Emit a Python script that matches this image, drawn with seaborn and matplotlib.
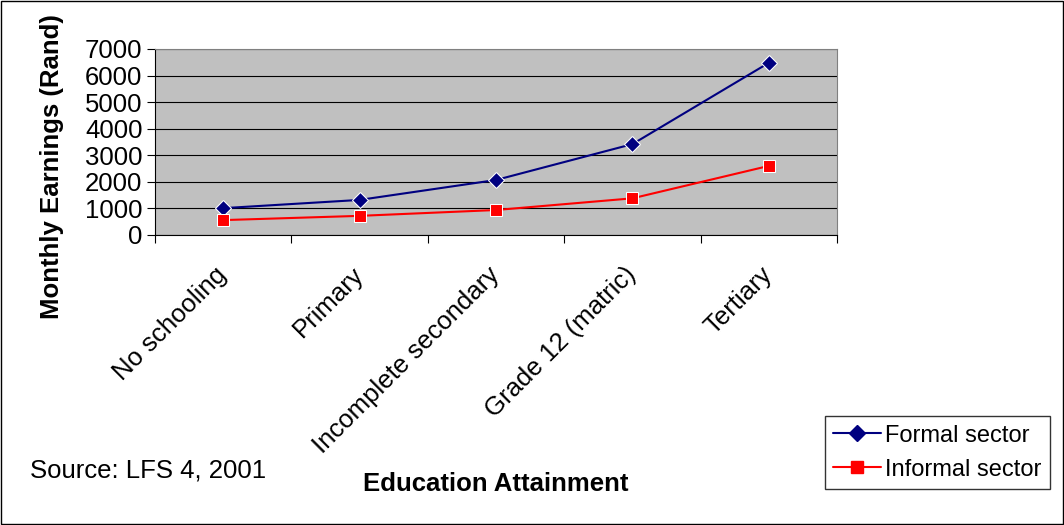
import matplotlib
matplotlib.use("Agg")
import matplotlib.pyplot as plt
import seaborn as sns
import pandas as pd
from matplotlib.lines import Line2D

categories = ["No schooling", "Primary", "Incomplete secondary", "Grade 12 (matric)", "Tertiary"]
formal = [1010, 1320, 2070, 3420, 6480]
informal = [560, 720, 940, 1380, 2600]

df = pd.DataFrame({
    "cat": list(range(len(categories))) * 2,
    "value": formal + informal,
    "sector": ["Formal sector"] * 5 + ["Informal sector"] * 5,
})

sns.set_style("white")
plt.rcParams["font.family"] = ["Liberation Sans", "DejaVu Sans"]
plt.rcParams["text.color"] = "black"
plt.rcParams["xtick.color"] = "black"
plt.rcParams["ytick.color"] = "black"
FS = 18.5

fig = plt.figure(figsize=(10.64, 5.25), dpi=100)
ax = fig.add_axes([0.1457, 0.5524, 0.641, 0.3543])
ax.set_facecolor("#C0C0C0")

sns.lineplot(data=df, x="cat", y="value", hue="sector", style="sector",
             palette={"Formal sector": "#000080", "Informal sector": "#FF0000"},
             markers={"Formal sector": "D", "Informal sector": "s"},
             dashes=False, markersize=8, linewidth=1.5, ax=ax, legend=False)

ax.set_xlim(-0.5, 4.5)
ax.set_ylim(0, 7000)
ax.set_yticks(range(0, 7001, 1000))
ax.yaxis.grid(True, color="black", linewidth=0.8)
ax.set_axisbelow(True)
ax.set_xticks([i - 0.5 for i in range(6)], minor=False)
ax.set_xticklabels([])
ax.set_xticks(range(5), minor=True)
ax.set_xticklabels(categories, minor=True, rotation=45, ha="right", va="center",
                   rotation_mode="anchor", fontsize=FS)
ax.tick_params(axis="x", which="minor", length=0, pad=26)
ax.tick_params(axis="x", which="major", length=6, direction="out", bottom=True)
ax.tick_params(axis="y", labelsize=FS, length=6, direction="out", left=True, pad=3)
for s in ax.spines.values():
    s.set_color("#808080")
ax.spines["bottom"].set_color("black")
ax.spines["left"].set_color("black")

ax.set_xlabel("")
ax.set_ylabel("")
fig.text(0.049, 1 - 167 / 525, "Monthly Earnings (Rand)", fontsize=FS, fontweight="bold",
         rotation=90, ha="center", va="center")
fig.text(0.466, 0.065, "Education Attainment", fontsize=FS, fontweight="bold", ha="center")
fig.text(0.028, 0.09, "Source: LFS 4, 2001", fontsize=FS)

handles = [Line2D([], [], color="#000080", marker="D", markersize=8, linewidth=1.5),
           Line2D([], [], color="#FF0000", marker="s", markersize=8, linewidth=1.5)]
leg = fig.legend(handles, ["Formal sector", "Informal sector"], loc="lower left",
                 bbox_to_anchor=(0.771, 0.06), fontsize=17, frameon=True,
                 fancybox=False, edgecolor="black", handlelength=2.0,
                 handletextpad=0.2, borderpad=0.35, borderaxespad=0.2,
                 labelspacing=0.5)
leg.get_frame().set_linewidth(1)

fig.patches.append(plt.Rectangle((0.001, 0.001), 0.998, 0.997, transform=fig.transFigure,
                                 fill=False, edgecolor="black", linewidth=1))
fig.savefig("out.png", dpi=100)
